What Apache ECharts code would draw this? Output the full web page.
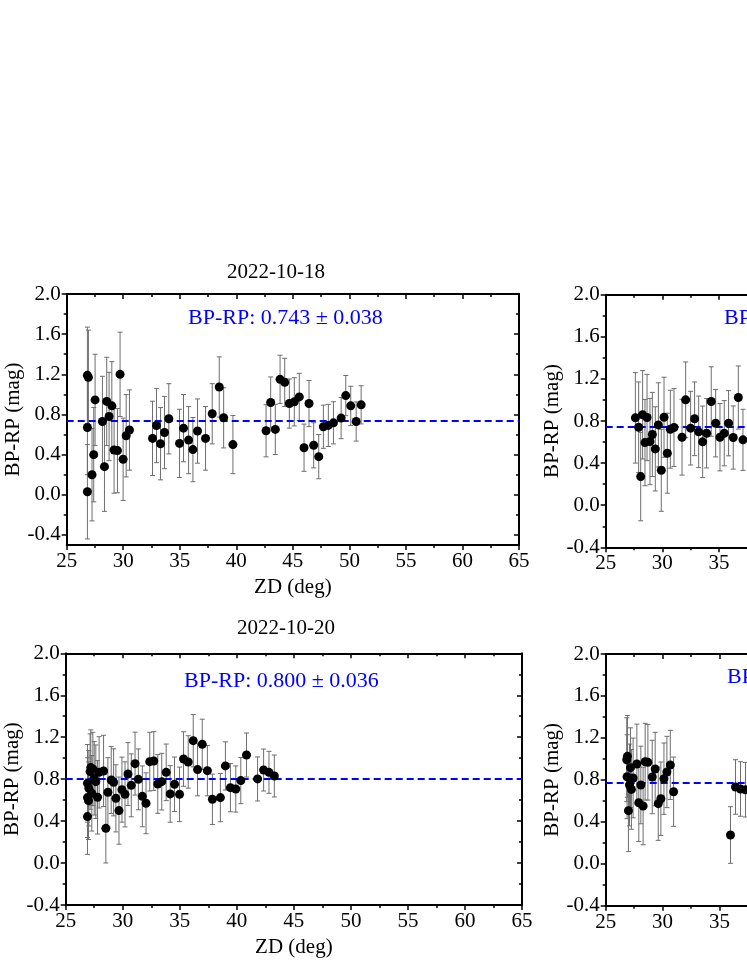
<!DOCTYPE html>
<html>
<head>
<meta charset="utf-8">
<script src="https://cdn.jsdelivr.net/npm/echarts@6/dist/echarts.min.js"></script>
<style>
html,body{margin:0;padding:0;background:#fff;overflow:hidden;}
#chart{width:747px;height:967px;}
</style>
</head>
<body>
<div id="chart"></div>
<script>
// ---------------- DATA ----------------
const titles = ['2022-10-18', '2022-10-19', '2022-10-20', '2022-10-21'];
const annotations = ['BP-RP: 0.743 \u00b1 0.038', 'BP-RP: 0.754 \u00b1 0.040', 'BP-RP: 0.800 \u00b1 0.036', 'BP-RP: 0.767 \u00b1 0.045'];
const means = [0.743, 0.754, 0.800, 0.767];

const xTicks = [25, 30, 35, 40, 45, 50, 55, 60, 65];
const xMinorTicks = [27.5, 32.5, 37.5, 42.5, 47.5, 52.5, 57.5, 62.5];
const yTicks = [-0.4, 0.0, 0.4, 0.8, 1.2, 1.6, 2.0];
const yMinorTicks = [-0.2, 0.2, 0.6, 1.0, 1.4, 1.8];
const yMin1 = -0.5, yMinOthers = -0.4, yMax = 2.0;

// Panel 1: 2022-10-18
const zd1 = [26.83, 26.83, 26.92, 26.83, 27.24, 27.39, 27.51, 28.16, 28.34, 28.54, 28.75, 28.99, 29.19, 29.49, 29.72, 29.99, 30.26, 30.55,
  32.59, 32.94, 33.30, 33.65, 34.03, 34.98, 35.33, 35.78, 36.16, 36.57, 37.28, 37.87, 38.49, 38.88, 39.70,
  42.63, 43.04, 43.45, 43.87, 44.28, 44.69, 45.13, 45.57, 45.99, 46.43, 46.84, 47.29, 47.70, 48.14, 48.59, 49.27, 49.68, 50.12, 50.60, 51.04];
const bprp1 = [0.03, 1.19, 1.17, 0.67, 0.20, 0.40, 0.945, 0.73, 0.28, 0.93, 0.78, 0.886, 0.446, 0.44, 1.20, 0.354, 0.588, 0.645,
  0.562, 0.69, 0.509, 0.62, 0.757, 0.512, 0.664, 0.545, 0.45, 0.635, 0.562, 0.807, 1.074, 0.767, 0.50,
  0.638, 0.919, 0.651, 1.15, 1.12, 0.909, 0.926, 0.975, 0.469, 0.909, 0.493, 0.38, 0.678, 0.691, 0.717, 0.764, 0.988, 0.886, 0.73, 0.896];
const err1 = [0.47, 0.48, 0.47, 0.47, 0.46, 0.47, 0.455, 0.45, 0.445, 0.44, 0.44, 0.44, 0.43, 0.42, 0.42, 0.41, 0.41, 0.40,
  0.37, 0.37, 0.36, 0.36, 0.35, 0.34, 0.335, 0.335, 0.32, 0.32, 0.317, 0.30, 0.30, 0.30, 0.29,
  0.26, 0.255, 0.25, 0.24, 0.24, 0.245, 0.24, 0.235, 0.235, 0.23, 0.225, 0.22, 0.215, 0.21, 0.21, 0.205, 0.20, 0.195, 0.195, 0.19];

// Panel 2: 2022-10-19 (partly outside the picture)
const zd2 = [27.62, 27.91, 28.09, 28.26, 28.47, 28.65, 28.91, 29.12, 29.38, 29.65, 29.91, 30.15, 30.44, 30.71, 31.03,
  31.74, 32.06, 32.50, 32.85, 33.21, 33.56, 33.91, 34.32, 34.71, 35.09, 35.47, 35.85, 36.26, 36.71, 37.12];
const bprp2 = [0.83, 0.741, 0.272, 0.859, 0.595, 0.833, 0.605, 0.672, 0.535, 0.763, 0.332, 0.836, 0.494, 0.722, 0.738,
  0.646, 1.001, 0.732, 0.821, 0.697, 0.602, 0.684, 0.985, 0.779, 0.646, 0.684, 0.779, 0.643, 1.023, 0.621];
const err2 = [0.43, 0.43, 0.42, 0.42, 0.41, 0.41, 0.41, 0.40, 0.40, 0.40, 0.39, 0.38, 0.38, 0.37, 0.37,
  0.36, 0.36, 0.35, 0.35, 0.34, 0.34, 0.33, 0.33, 0.32, 0.32, 0.31, 0.31, 0.30, 0.30, 0.29];

// Panel 3: 2022-10-20
const zd3 = [26.91, 26.91, 26.91, 27.00, 27.03, 27.14, 27.20, 27.29, 27.38, 27.50, 27.64, 27.79, 27.93, 28.32, 28.52, 28.70, 28.99, 29.20,
  29.40, 29.67, 29.93, 30.20, 30.46, 30.75, 31.08, 31.37, 31.72, 32.04, 32.37, 32.72, 33.07, 33.42, 33.81, 34.16, 34.54, 34.98,
  35.33, 35.74, 36.18, 36.56, 36.97, 37.42, 37.86, 38.56, 39.00, 39.44, 39.91, 40.35, 40.85, 41.82, 42.35, 42.82, 43.29];
const bprp3 = [0.443, 0.624, 0.76, 0.595, 0.713, 0.872, 0.91, 0.665, 0.897, 0.808, 0.776, 0.627, 0.865, 0.878, 0.331, 0.675, 0.792, 0.77,
  0.617, 0.50, 0.70, 0.655, 0.849, 0.741, 0.948, 0.798, 0.636, 0.57, 0.967, 0.973, 0.754, 0.776, 0.865, 0.659, 0.751, 0.655,
  0.992, 0.964, 1.167, 0.891, 1.132, 0.881, 0.608, 0.624, 0.926, 0.719, 0.706, 0.786, 1.03, 0.802, 0.887, 0.865, 0.83];
const err3 = [0.36, 0.38, 0.37, 0.37, 0.36, 0.36, 0.36, 0.36, 0.35, 0.35, 0.35, 0.35, 0.34, 0.34, 0.33, 0.33, 0.32, 0.32,
  0.32, 0.32, 0.31, 0.31, 0.30, 0.30, 0.30, 0.29, 0.29, 0.29, 0.28, 0.28, 0.28, 0.27, 0.27, 0.27, 0.26, 0.26,
  0.26, 0.25, 0.25, 0.25, 0.24, 0.24, 0.24, 0.23, 0.23, 0.23, 0.22, 0.22, 0.21, 0.21, 0.20, 0.20, 0.20];

// Panel 4: 2022-10-21 (partly outside the picture)
const zd4 = [26.85, 26.91, 26.88, 27.00, 27.09, 27.18, 27.26, 27.41, 27.74, 27.91, 28.09, 28.29, 28.47, 28.71, 29.09, 29.35, 29.62,
  29.85, 30.12, 30.38, 30.68, 30.97, 35.97, 36.41, 36.85, 37.29];
const bprp4 = [0.992, 1.024, 0.83, 0.506, 0.751, 0.916, 0.709, 0.818, 0.951, 0.582, 0.751, 0.551, 0.973, 0.967, 0.827, 0.903, 0.573,
  0.62, 0.811, 0.875, 0.942, 0.687, 0.274, 0.732, 0.713, 0.706];
const err4 = [0.40, 0.39, 0.40, 0.39, 0.39, 0.38, 0.38, 0.38, 0.38, 0.37, 0.37, 0.37, 0.366, 0.36, 0.35, 0.35, 0.35,
  0.35, 0.34, 0.34, 0.33, 0.33, 0.27, 0.26, 0.26, 0.26];

const zdAll = [zd1, zd2, zd3, zd4];
const bprpAll = [bprp1, bprp2, bprp3, bprp4];
const errAll = [err1, err2, err3, err4];

// ---------------- LAYOUT / STYLE ----------------
const FONT = "'Liberation Serif', 'Times New Roman', serif";
const grids = [
  {left: 66.7, top: 294, width: 452.3, height: 251},
  {left: 605.7, top: 294.7, width: 453, height: 252.6},
  {left: 65.7, top: 653.3, width: 456.3, height: 251.7},
  {left: 605.7, top: 654, width: 455, height: 251.7}
];
const titlePos = [{left: 227, top: 262}, null, {left: 237, top: 618}, null];
const annoPos = [{left: 188, top: 307}, {left: 724, top: 307}, {left: 184, top: 670}, {left: 727, top: 666}];

const lineStyleAxis = {color: '#000', width: 2};
const tickStyle = {color: '#000', width: 1.5};
const fmt = v => Number(v).toFixed(1);
const yNameCfg = {
  name: 'BP-RP (mag)', nameLocation: 'middle', nameGap: 43, nameMoveOverlap: false,
  nameTextStyle: {fontFamily: FONT, fontSize: 21, color: '#000'}
};

const option = {
  animation: false,
  backgroundColor: '#fff',
  grid: grids.map(g => Object.assign({containLabel: false, outerBoundsMode: 'none'}, g)),
  title: [],
  xAxis: [],
  yAxis: [],
  series: []
};

for (let i = 0; i < 4; i++) {
  if (titlePos[i]) {
    option.title.push({text: titles[i], left: titlePos[i].left, top: titlePos[i].top, padding: 0,
      textStyle: {fontFamily: FONT, fontSize: 21, fontWeight: 'normal', color: '#000'}});
  }
  option.title.push({text: annotations[i], left: annoPos[i].left, top: annoPos[i].top, padding: 0,
    textStyle: {fontFamily: FONT, fontSize: 22, fontWeight: 'normal', color: '#0000ff'}});

  // x axes
  const xb = option.xAxis.length;
  option.xAxis.push({
    type: 'value', gridIndex: i, position: 'bottom', min: 25, max: 65, interval: 5,
    axisLine: {show: true, onZero: false, lineStyle: lineStyleAxis},
    axisTick: {show: true, inside: false, length: 5, lineStyle: tickStyle},
    minorTick: {show: true, splitNumber: 2, length: 3, lineStyle: tickStyle},
    axisLabel: {show: true, margin: 6, fontFamily: FONT, fontSize: 21, color: '#000'},
    splitLine: {show: false},
    name: 'ZD (deg)', nameLocation: 'middle', nameGap: 32, nameMoveOverlap: false,
    nameTextStyle: {fontFamily: FONT, fontSize: 21, color: '#000'}
  });
  option.xAxis.push({
    type: 'value', gridIndex: i, position: 'top', min: 25, max: 65, interval: 5,
    axisLine: {show: true, onZero: false, lineStyle: lineStyleAxis},
    axisTick: {show: true, inside: true, length: 5, lineStyle: tickStyle},
    minorTick: {show: true, splitNumber: 2, length: 3, lineStyle: tickStyle},
    axisLabel: {show: false}, splitLine: {show: false}
  });

  // y axes
  const yl = option.yAxis.length;
  const yMin = (i === 0) ? yMin1 : yMinOthers;
  if (i === 0) {
    option.yAxis.push(Object.assign({
      type: 'value', gridIndex: i, position: 'left', min: yMin, max: yMax,
      axisLine: {show: true, onZero: false, lineStyle: lineStyleAxis},
      axisTick: {show: true, inside: false, length: 5, lineStyle: tickStyle, customValues: yTicks},
      axisLabel: {show: true, margin: 6, fontFamily: FONT, fontSize: 21, color: '#000', customValues: yTicks, formatter: fmt},
      splitLine: {show: false}
    }, yNameCfg));
    option.yAxis.push({
      type: 'value', gridIndex: i, position: 'left', min: yMin, max: yMax,
      axisLine: {show: false},
      axisTick: {show: true, inside: false, length: 3, lineStyle: tickStyle, customValues: yMinorTicks},
      axisLabel: {show: false}, splitLine: {show: false}
    });
    option.yAxis.push({
      type: 'value', gridIndex: i, position: 'right', min: yMin, max: yMax,
      axisLine: {show: true, onZero: false, lineStyle: lineStyleAxis},
      axisTick: {show: true, inside: true, length: 5, lineStyle: tickStyle, customValues: yTicks},
      axisLabel: {show: false}, splitLine: {show: false}
    });
    option.yAxis.push({
      type: 'value', gridIndex: i, position: 'right', min: yMin, max: yMax,
      axisLine: {show: false},
      axisTick: {show: true, inside: true, length: 3, lineStyle: tickStyle, customValues: yMinorTicks},
      axisLabel: {show: false}, splitLine: {show: false}
    });
  } else {
    option.yAxis.push(Object.assign({
      type: 'value', gridIndex: i, position: 'left', min: yMin, max: yMax, interval: 0.4,
      axisLine: {show: true, onZero: false, lineStyle: lineStyleAxis},
      axisTick: {show: true, inside: false, length: 5, lineStyle: tickStyle},
      minorTick: {show: true, splitNumber: 2, length: 3, lineStyle: tickStyle},
      axisLabel: {show: true, margin: 6, fontFamily: FONT, fontSize: 21, color: '#000', formatter: fmt},
      splitLine: {show: false}
    }, yNameCfg));
    option.yAxis.push({
      type: 'value', gridIndex: i, position: 'right', min: yMin, max: yMax, interval: 0.4,
      axisLine: {show: true, onZero: false, lineStyle: lineStyleAxis},
      axisTick: {show: true, inside: true, length: 5, lineStyle: tickStyle},
      minorTick: {show: true, splitNumber: 2, length: 3, lineStyle: tickStyle},
      axisLabel: {show: false}, splitLine: {show: false}
    });
  }

  const pts = zdAll[i].map((x, k) => [x, bprpAll[i][k], errAll[i][k]]);

  // error bars
  option.series.push({
    type: 'custom', xAxisIndex: xb, yAxisIndex: yl, z: 2, silent: true,
    encode: {x: 0, y: 1},
    data: pts,
    renderItem: function (params, api) {
      const x = api.value(0), y = api.value(1), e = api.value(2);
      const t = api.coord([x, y + e]);
      const b = api.coord([x, y - e]);
      const w = 2.5;
      const st = {stroke: '#6e6e6e', lineWidth: 1, fill: null};
      return {type: 'group', children: [
        {type: 'line', shape: {x1: t[0], y1: t[1], x2: b[0], y2: b[1]}, style: st},
        {type: 'line', shape: {x1: t[0] - w, y1: t[1], x2: t[0] + w, y2: t[1]}, style: st},
        {type: 'line', shape: {x1: b[0] - w, y1: b[1], x2: b[0] + w, y2: b[1]}, style: st}
      ]};
    }
  });

  // points + mean line
  option.series.push({
    type: 'scatter', xAxisIndex: xb, yAxisIndex: yl, z: 4, silent: true,
    symbol: 'circle', symbolSize: 9,
    itemStyle: {color: '#000', opacity: 1},
    data: pts.map(p => [p[0], p[1]]),
    markLine: {
      silent: true, symbol: 'none', z: 3,
      label: {show: false},
      lineStyle: {color: '#0000ff', width: 2, type: [7, 4], opacity: 1},
      data: [{yAxis: means[i]}]
    }
  });
}

const chart = echarts.init(document.getElementById('chart'), null, {renderer: 'canvas'});
chart.setOption(option);
</script>
</body>
</html>
